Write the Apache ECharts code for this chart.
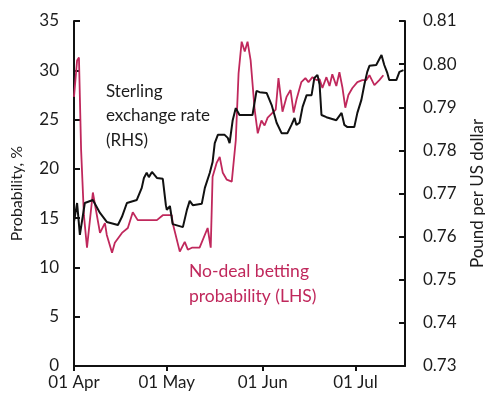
<!DOCTYPE html>
<html>
<head>
<meta charset="utf-8">
<script src="https://cdn.jsdelivr.net/npm/echarts@6/dist/echarts.min.js"></script>
<style>html,body{margin:0;padding:0;background:#fff}#c{width:485px;height:398px}</style>
</head>
<body>
<div id="c"></div>
<script>
// Day offsets from 01 Apr
var tickDays = [0, 30, 61, 91];
var tickLabels = ['01 Apr', '01 May', '01 Jun', '01 Jul'];

// No-deal betting probability (LHS, %)
var noDealDays = [0,1,1.6,2.3,3.2,4.2,6.1,8.4,10,10.6,12.3,13.2,15.5,17.4,19,20.6,26.8,28.7,31.6,31.9,34.2,35.8,36.8,38.1,40.6,43.2,44.2,44.8,46.1,47.1,48.1,49.4,51,52.3,53.2,54.2,55.2,56.1,57.1,58.4,59.4,60.6,61.6,62.6,63.9,65.2,66.1,67.4,68.7,70,71,71.9,73.5,74.8,75.8,77.1,78.4,79.4,80.3,81.6,82.6,83.5,84.8,85.8,86.8,87.7,88.7,90,91.6,93.2,94.5,95.5,97.1,98.7,100];
var noDealVals = [27.3,31.0,31.3,21.9,15.3,12.0,17.6,13.5,14.5,13.3,11.5,12.5,13.5,14.0,15.6,14.8,14.8,15.3,15.3,14.5,11.6,12.6,11.8,12.0,12.0,14.0,12.0,19.2,20.6,21.2,19.6,18.9,18.7,22.9,29.7,32.9,31.9,32.9,31.0,26.0,23.6,24.9,24.4,25.2,25.6,26.0,29.2,25.8,27.3,28.0,25.7,27.0,28.8,29.2,28.8,29.3,29.0,29.1,28.2,29.3,28.4,29.6,28.4,29.8,28.2,26.2,27.5,28.2,28.8,29.0,29.0,29.5,28.5,29.0,29.5];

// Sterling exchange rate (RHS, pound per US dollar)
var sterlingDays = [0,1,1.9,3.5,6.1,8.4,10.6,14.2,15.5,17.1,20.3,21.9,22.6,23.5,24.2,25.2,26.8,28.7,29.7,30,31,31.9,35.2,36.5,37.4,38.4,41.3,42.3,43.9,44.8,45.5,46.5,48.7,49.7,50.3,51.3,52.3,53.5,57.7,59,60,62.3,63.9,65.5,67.1,69,70.3,71.3,71.9,72.9,73.9,75.2,76.8,77.7,78.7,79.4,80,81.6,84.8,86.5,87.4,88.4,90.6,91.6,92.9,93.9,94.8,95.5,97.7,99.4,100.3,101.3,101.9,104.2,105.2,106.5];
var sterlingVals = [0.7634,0.7678,0.7604,0.7678,0.7685,0.7655,0.7634,0.7627,0.7646,0.7678,0.7685,0.7713,0.7736,0.7748,0.7738,0.7750,0.7736,0.7734,0.7673,0.7662,0.7671,0.7629,0.7622,0.7662,0.7683,0.7673,0.7676,0.7713,0.7748,0.7773,0.7817,0.7836,0.7836,0.7829,0.7817,0.7870,0.7898,0.7882,0.7882,0.7938,0.7935,0.7933,0.7905,0.7864,0.7840,0.7840,0.7859,0.7875,0.7859,0.7864,0.7901,0.7928,0.7928,0.7968,0.7975,0.7952,0.7882,0.7877,0.7870,0.7887,0.7859,0.7854,0.7854,0.7887,0.7917,0.7954,0.7982,0.7996,0.7998,0.8021,0.7998,0.7979,0.7963,0.7963,0.7982,0.7986];

function pairs(xs, ys) { return xs.map(function (x, i) { return [x, ys[i]]; }); }

var RED = '#c0285c';
var INK = '#1c1c1c';
var FONT = 'Lato';
var chart = echarts.init(document.getElementById('c'), null, { renderer: 'canvas' });
chart.setOption({
  animation: false,
  backgroundColor: '#fff',
  grid: { left: 74, right: 80, top: 21, bottom: 32, containLabel: false, outerBoundsMode: 'none' },
  xAxis: {
    type: 'value', min: 0, max: 107,
    splitLine: { show: false },
    axisLine: { lineStyle: { color: '#111', width: 2 } },
    axisTick: { show: true, inside: false, length: 5, lineStyle: { color: '#111', width: 2 }, customValues: tickDays },
    axisLabel: { customValues: tickDays, color: INK, fontFamily: FONT, fontSize: 17, margin: 8,
      formatter: function (v) { var i = tickDays.indexOf(v); return i >= 0 ? tickLabels[i] : ''; } }
  },
  yAxis: [{
    type: 'value', min: 0, max: 35, interval: 5, position: 'left',
    name: 'Probability, %', nameLocation: 'middle', nameGap: 49, nameRotate: 90,
    nameTextStyle: { color: INK, fontFamily: FONT, fontSize: 16 },
    splitLine: { show: false },
    axisLine: { show: true, lineStyle: { color: '#111', width: 2 } },
    axisTick: { show: true, inside: true, length: 6, lineStyle: { color: '#111', width: 2 } },
    axisLabel: { color: INK, fontFamily: FONT, fontSize: 17, margin: 15 }
  }, {
    type: 'value', min: 0.73, max: 0.81, interval: 0.01, position: 'right',
    name: 'Pound per US dollar', nameLocation: 'middle', nameGap: 64, nameRotate: 90,
    nameTextStyle: { color: INK, fontFamily: FONT, fontSize: 17 },
    splitLine: { show: false },
    axisLine: { show: true, lineStyle: { color: '#111', width: 2 } },
    axisTick: { show: true, inside: true, length: 6, lineStyle: { color: '#111', width: 2 } },
    axisLabel: { color: INK, fontFamily: FONT, fontSize: 17, margin: 18,
      formatter: function (v) { return v.toFixed(2); } }
  }],
  series: [{
    name: 'No-deal betting probability (LHS)', type: 'line', yAxisIndex: 0,
    data: pairs(noDealDays, noDealVals), symbol: 'none',
    lineStyle: { color: RED, width: 1.8 }, z: 2
  }, {
    name: 'Sterling exchange rate (RHS)', type: 'line', yAxisIndex: 1,
    data: pairs(sterlingDays, sterlingVals), symbol: 'none',
    lineStyle: { color: '#111', width: 2 }, z: 3
  }],
  graphic: [{
    type: 'text', left: 106, top: 79,
    style: { text: 'Sterling\nexchange rate\n(RHS)', fill: INK, font: '17px Lato', lineHeight: 24.5 }
  }, {
    type: 'text', left: 189, top: 259,
    style: { text: 'No-deal betting\nprobability (LHS)', fill: RED, font: '17.5px Lato', lineHeight: 25 }
  }]
});
</script>
</body>
</html>
